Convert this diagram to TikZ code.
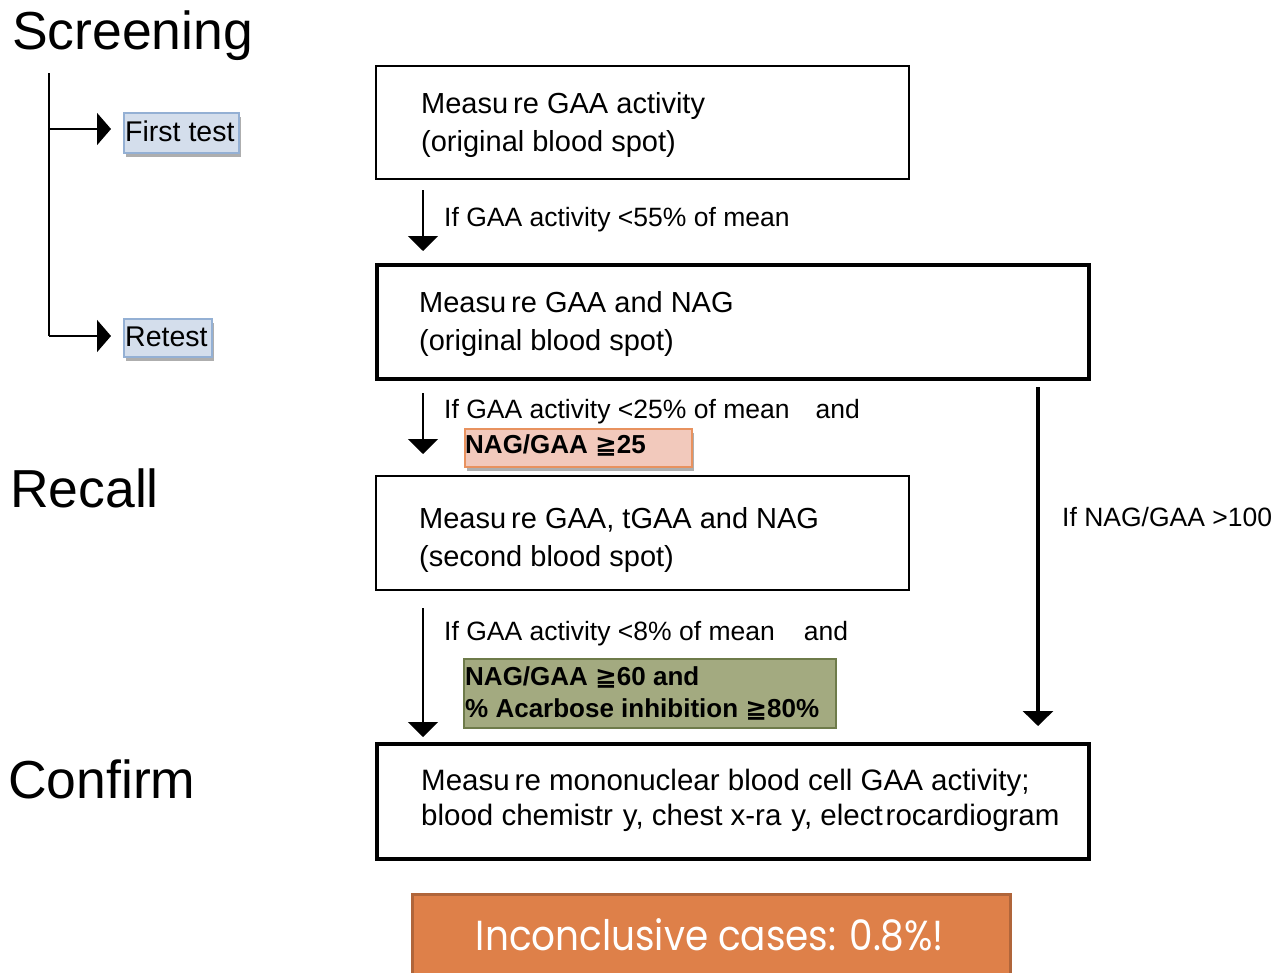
\documentclass[tikz,border=0pt]{standalone}
\usepackage{fontspec}
\setmainfont{Liberation Sans}
\newfontfamily\symfont{DejaVu Sans}
\newfontfamily\gothfont{Poppins}
\usetikzlibrary{arrows.meta,shadows}
\definecolor{pinkfill}{HTML}{F2C9BC}
\definecolor{pinkline}{HTML}{E8925F}
\definecolor{greenfill}{HTML}{A3AA80}
\definecolor{greenline}{HTML}{6E7B4A}
\definecolor{bluefill}{HTML}{D4DEEC}
\definecolor{blueline}{HTML}{94B0D4}
\definecolor{orangefill}{HTML}{DE8049}
\definecolor{orangeline}{HTML}{B0653A}
\newcommand{\geqq}{{\symfont\bfseries ≧}}
\tikzset{
  thinbox/.style={draw=black,line width=2pt,anchor=north west,inner sep=0pt},
  thickbox/.style={draw=black,line width=3.5pt,anchor=north west,inner sep=0pt},
  txt/.style={anchor=base west,inner sep=0pt,font=\fontsize{29}{30}\selectfont},
  lbl/.style={anchor=base west,inner sep=0pt,font=\fontsize{26.5}{30}\selectfont},
  big/.style={anchor=base west,inner sep=0pt,font=\fontsize{53.5}{60}\selectfont},
  arr/.style={line width=2pt,-{Triangle[width=30pt,length=15pt]}},
  arrthick/.style={line width=3.2pt,-{Triangle[width=30pt,length=15pt]}},
  tree/.style={line width=2pt},
  treearr/.style={line width=2pt,-{Triangle[width=32pt,length=14pt]}},
  shad/.style={drop shadow={shadow xshift=2pt,shadow yshift=-4pt,opacity=0.45,fill=black!70}},
}
\begin{document}
\begin{tikzpicture}[x=1pt,y=-1pt]
\useasboundingbox (0,0) rectangle (1276,972);
% left labels
\node[big] (scr) at (12,49) {Screening};
\node[big] (rec) at (10,507) {Recall};
\node[big] (con) at (8,798) {Confirm};
% tree
\coordinate (tt) at (49,73);
\coordinate (tj) at (49,129);
\coordinate (tb) at (49,336);
\coordinate (ftin) at (111,129);
\coordinate (rtin) at (111,336);
\draw[tree] (tt) -- (tb);
\draw[treearr] (tj) -- (ftin);
\draw[treearr] (tb) -- (rtin);
\node[anchor=north west,draw=blueline,line width=1.5pt,fill=bluefill,shad,minimum width=115pt,minimum height=40pt,inner sep=0pt] (ftbox) at (123,112) {};
\node[txt,font=\fontsize{28.5}{30}\selectfont] (ft) at (125,141) {First test};
\node[anchor=north west,draw=blueline,line width=1.5pt,fill=bluefill,shad,minimum width=88pt,minimum height=38pt,inner sep=0pt] (rtbox) at (123,318) {};
\node[txt,font=\fontsize{28.5}{30}\selectfont] (rt) at (125,346) {Retest};
% boxes
\node[thinbox,minimum width=533pt,minimum height=113pt] (b1) at (375,65) {};
\node[txt] (b1l1) at (421,113) {Measu\hspace{5pt}re GAA activity};
\node[txt] (b1l2) at (421,151) {(original blood spot)};
\node[thickbox,minimum width=712pt,minimum height=114pt] (b2) at (375,263) {};
\node[txt] (b2l1) at (419,312) {Measu\hspace{5pt}re GAA and NAG};
\node[txt] (b2l2) at (419,350) {(original blood spot)};
\node[thinbox,minimum width=533pt,minimum height=114pt] (b3) at (375,475) {};
\node[txt] (b3l1) at (419,528) {Measu\hspace{5pt}re GAA, tGAA and NAG};
\node[txt] (b3l2) at (419,566) {(second blood spot)};
\node[thickbox,minimum width=712pt,minimum height=115pt] (b4) at (375,742) {};
\node[txt,font=\fontsize{29.5}{30}\selectfont] (b4l1) at (421,790) {Measu\hspace{5pt}re mononuclear blood cell GAA activity;};
\node[txt,font=\fontsize{29.5}{30}\selectfont] (b4l2) at (421,825) {blood chemistr\hspace{10pt}y, chest x-ra\hspace{10pt}y, elect\hspace{3pt}rocardiogram};
% arrows
\coordinate (a1s) at (423,190); \coordinate (a1e) at (423,251);
\coordinate (a2s) at (423,393); \coordinate (a2e) at (423,454);
\coordinate (a3s) at (423,608); \coordinate (a3e) at (423,737);
\coordinate (a4s) at (1038,387); \coordinate (a4e) at (1038,726);
\draw[arr] (a1s) -- (a1e);
\draw[arr] (a2s) -- (a2e);
\draw[arr] (a3s) -- (a3e);
\draw[arrthick] (a4s) -- (a4e);
\node[lbl] (l1) at (444,226) {If GAA activity <55\% of mean};
\node[lbl] (l2) at (444,418) {If GAA activity <25\% of mean\hspace{26pt}and};
\node[lbl] (l3) at (444,640) {If GAA activity <8\% of mean\hspace{29pt}and};
\node[lbl] (l4) at (1062,526) {If NAG/GAA >100};
% criteria boxes
\node[anchor=north west,draw=pinkline,line width=1.5pt,fill=pinkfill,shad,minimum width=227pt,minimum height=38pt,inner sep=0pt] (pk) at (464,428) {};
\node[lbl,font=\fontsize{26}{30}\selectfont\bfseries] (pkt) at (465,453) {NAG/GAA \geqq25};
\node[anchor=north west,draw=greenline,line width=2pt,fill=greenfill,minimum width=372pt,minimum height=69pt,inner sep=0pt] (gr) at (463,658) {};
\node[lbl,font=\fontsize{26}{30}\selectfont\bfseries] (grt1) at (465,685) {NAG/GAA \geqq60 and};
\node[lbl,font=\fontsize{26}{30}\selectfont\bfseries] (grt2) at (465,717) {\% Acarbose inhibition \geqq80\%};
% inconclusive
\node[anchor=north west,draw=orangeline,line width=3pt,fill=orangefill,minimum width=598pt,minimum height=90pt,inner sep=0pt] (inc) at (411,893) {};
\node[anchor=base,inner sep=0pt,text=white,font=\gothfont\fontsize{42}{46}\selectfont] (inct) at (710,950) {\scalebox{0.89}[1]{Inconclusive cases: 0.8\%!}};
\end{tikzpicture}
\end{document}
